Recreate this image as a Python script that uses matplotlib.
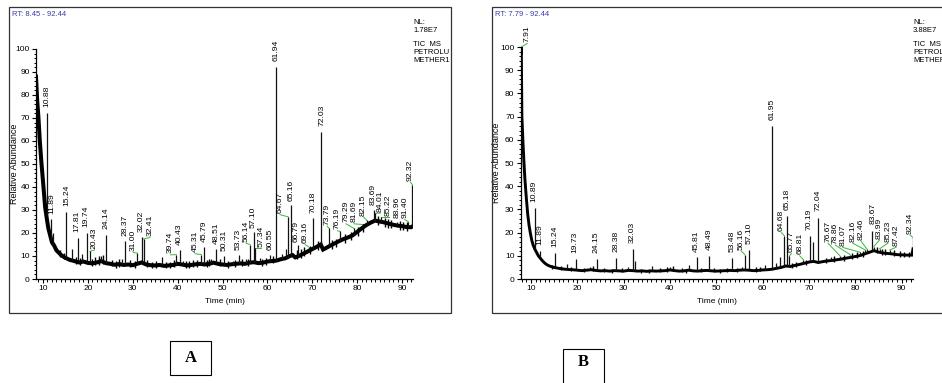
import matplotlib
matplotlib.use('Agg')
import matplotlib.pyplot as plt
import matplotlib.patches as patches
from matplotlib.ticker import MultipleLocator

NARROW = ['Liberation Sans Narrow', 'Liberation Sans', 'DejaVu Sans']
plt.rcParams['font.family'] = NARROW

# ---- panel A : baseline of the TIC trace (time, rel. abundance)
a_base_t = [8.45, 8.7, 9.0, 9.3, 9.6, 9.9, 10.2, 10.5, 10.8, 11.2, 11.6, 12.0, 12.5, 13.0, 13.5,
            14.0, 14.5, 15.0, 16, 17, 18, 19, 20, 21, 22, 23, 24, 25, 26, 27, 28, 29, 30, 31,
            32, 33, 34, 35, 36, 37, 38, 39, 40, 41, 42, 43, 44, 45, 46, 47, 48, 49, 50, 51, 52,
            53, 54, 55, 56, 57, 58, 59, 60, 61, 62, 63, 64, 65, 65.6, 66.2, 67, 68, 69, 70, 71,
            71.9, 72.4, 73, 74, 75, 76, 77, 78, 79, 80, 81, 82, 83, 84, 85, 86, 87, 88, 89, 90,
            91, 92, 92.44]
a_base_v = [88, 78, 70, 60, 52, 45, 38, 31, 27, 22, 19, 16, 14.5, 12.5, 11.5,
            10.5, 9.8, 9.2, 8.3, 7.8, 7.2, 7.6, 7.0, 6.8, 7.2, 7.8, 6.9, 6.6, 6.2, 6.5, 6.1, 6.3, 6.0, 6.6,
            7.2, 6.3, 6.0, 5.9, 6.1, 5.7, 5.9, 6.1, 6.6, 6.3, 5.9, 6.1, 6.4, 6.6, 6.3, 6.6, 7.1, 6.6, 6.3, 6.1, 6.4,
            6.6, 6.8, 6.6, 7.1, 7.3, 6.9, 7.1, 7.6, 7.8, 8.0, 8.6, 9.0, 10.0, 10.4, 9.4, 10.0, 11.0, 12.0, 13.0, 14.0,
            15.0, 12.8, 13.4, 14.5, 15.5, 16.5, 17.4, 18.1, 19.0, 20.5, 22.0, 23.4, 24.5, 25.4, 25.0, 24.6, 24.1, 23.6, 23.2, 23.0,
            22.6, 22.5, 23.0]

# panel A labelled peaks: retention time, apex, foot
a_pk_t = [10.88, 11.89, 15.24, 17.81, 19.74, 20.43, 24.14, 28.37, 31.00, 32.02, 32.41, 39.74, 40.43,
          45.31, 45.79, 48.51, 50.31, 53.73, 56.14, 57.10, 57.34, 60.55, 61.94, 64.67, 65.16, 66.79,
          69.16, 70.18, 72.03, 73.79, 76.19, 79.29, 81.69, 82.15, 83.69, 84.01, 85.22, 88.96, 91.40, 92.32]
a_pk_top = [72, 26, 29, 18, 20, 12, 19, 16.4, 11.3, 18.3, 17.4, 10.6, 12.5,
            10.6, 14, 13, 10, 10.6, 15, 20.5, 13.5, 10.6, 92, 27, 32, 15,
            14, 26.5, 64, 22, 20.7, 22, 23.6, 25.5, 30, 28.5, 27, 25, 25, 41]
a_pk_foot = [28, 17, 9.2, 7.7, 7.5, 7.0, 6.9, 6.1, 6.5, 7.1, 7.0, 6.1, 6.5,
             6.6, 6.4, 7.0, 6.3, 6.6, 7.0, 7.3, 7.2, 7.6, 8.0, 9.0, 10.0, 9.8,
             12.1, 13.0, 15.0, 14.2, 16.7, 19.3, 22.5, 23.5, 24.9, 25.4, 25.0, 23.4, 22.6, 22.6]
# unlabelled spikes on panel A
a_sp_t = [12.3, 16.5, 18.8, 23.0, 27.5, 36.5, 41.2, 47.5, 52.3, 55.2, 58.3, 63.2, 64.2]
a_sp_top = [20, 13, 11, 10, 8.5, 9.5, 8, 8.5, 8, 8.5, 9, 11, 13]
a_sp_foot = [15, 8.2, 7.4, 7.6, 6.3, 6.1, 6.2, 6.8, 6.3, 6.7, 6.9, 8.6, 9.0]
# baseline noise on panel A (time, high, low)
a_ns_t = [13.8, 14.6, 17.3, 18.3, 20.9, 21.7, 22.4, 23.4, 25.3, 26.2, 26.9, 29.4, 30.5, 33.2, 34.4,
          35.1, 37.4, 38.2, 39.3, 41.8, 42.6, 43.5, 44.4, 46.6, 47.1, 49.4, 51.3, 52.8, 54.3, 55.7,
          58.9, 59.6, 61.3, 66.6, 67.4, 68.2, 69.6, 71.2, 74.4, 75.3, 77.2, 78.6, 80.2, 81.3, 84.6,
          86.1, 86.8, 87.6, 89.5, 90.2, 91.1]
a_ns_hi = [12.5, 11.5, 9.5, 9.2, 8.8, 9.5, 9.8, 10.5, 8.4, 8.0, 8.6, 8.1, 7.9, 8.4, 7.6,
           7.8, 7.5, 7.6, 8.2, 8.0, 7.7, 8.1, 8.3, 8.4, 8.6, 8.7, 7.9, 8.3, 8.6, 8.9,
           8.8, 9.3, 9.9, 12.5, 13, 13.8, 14.5, 16.5, 16.8, 17.5, 19.5, 20.5, 22.5, 24.0, 27.5,
           26.5, 26.2, 25.8, 25.2, 25.0, 24.8]
a_ns_lo = [9.5, 8.8, 6.6, 6.2, 5.6, 6.0, 6.3, 6.5, 5.5, 5.0, 5.4, 5.1, 5.0, 5.3, 4.8,
           4.9, 4.7, 4.8, 5.2, 5.0, 4.8, 5.1, 5.3, 5.4, 5.6, 5.5, 5.0, 5.3, 5.6, 5.7,
           5.8, 6.1, 6.8, 8.6, 9.0, 9.8, 10.8, 12.6, 13.0, 14.0, 15.6, 17.0, 18.8, 20.5, 23.5,
           22.8, 22.3, 22.0, 21.4, 21.3, 21.0]

# ---- panel B
b_base_t = [7.79, 7.91, 8.05, 8.3, 8.5, 8.7, 9.0, 9.3, 9.6, 9.9, 10.2, 10.5, 10.8, 11.2, 11.6,
            12.0, 12.5, 13.0, 13.5, 14, 15, 16, 17, 18, 19, 20, 21, 22, 23, 24, 25, 26, 27, 28,
            29, 30, 31, 32, 33, 34, 35, 36, 37, 38, 39, 40, 41, 42, 43, 44, 45, 46, 47, 48, 49,
            50, 51, 52, 53, 54, 55, 56, 57, 58, 59, 60, 61, 62, 63, 64, 65, 66, 67, 68, 69, 70,
            71, 72, 73, 74, 75, 76, 77, 78, 79, 80, 81, 82, 83, 84, 85, 86, 87, 88, 89, 90, 91,
            92.2, 92.44]
b_base_v = [97, 100, 70, 58, 50, 43, 35, 28, 23, 19.5, 16.5, 14.5, 13, 11.5, 10,
            9, 7.8, 6.8, 6.1, 5.6, 5.0, 4.6, 4.3, 4.1, 4.0, 3.8, 3.6, 3.8, 4.0, 3.7, 3.5, 3.6, 3.4, 3.6,
            3.5, 3.4, 3.7, 3.6, 3.4, 3.5, 3.3, 3.5, 3.4, 3.5, 3.6, 3.9, 3.6, 3.4, 3.5, 3.8, 3.5, 3.4, 3.6, 3.7, 3.5,
            3.4, 3.5, 3.6, 3.7, 3.6, 3.8, 3.9, 3.8, 3.6, 3.7, 3.9, 4.0, 4.2, 4.6, 5.0, 5.6, 5.4, 5.9, 6.3, 6.8, 7.3,
            7.6, 7.1, 7.5, 7.8, 8.0, 8.3, 8.6, 9.0, 9.3, 9.7, 10.1, 10.8, 11.5, 12.2, 11.6, 11.2, 11.0, 10.8, 10.5, 10.4, 10.3,
            10.3, 13]

b_pk_t = [7.91, 10.89, 11.89, 15.24, 19.73, 24.15, 28.38, 32.03, 45.81, 48.49, 53.48, 56.16, 57.10,
          61.95, 64.68, 65.18, 65.77, 68.81, 70.19, 72.04, 76.67, 78.86, 81.07, 82.16, 82.46, 83.67,
          83.99, 85.23, 87.42, 92.34]
b_pk_top = [100, 30.5, 12, 11, 8.6, 8.6, 9, 13, 9.3, 10, 9, 10.5, 12.4,
            66, 18.7, 27, 9.8, 8.3, 18.4, 26.3, 10, 10.5, 11.5, 12.5, 13, 20.5,
            14, 13, 12.5, 18]
b_pk_foot = [100, 13, 9.5, 5.0, 3.9, 3.7, 3.6, 3.6, 3.5, 3.6, 3.7, 3.9, 3.8,
             4.1, 5.0, 5.5, 5.5, 6.5, 7.3, 7.1, 8.4, 9.0, 10.0, 10.8, 11.0, 12.0,
             12.2, 11.5, 11.0, 10.4]
b_sp_t = [17.7, 22.8, 31.0, 32.5, 36.2, 40.0, 44.0, 55.5, 60.6, 62.8, 63.7, 70.9, 74.8]
b_sp_top = [6.5, 5, 5, 7.6, 5.7, 5, 6, 5, 6, 7, 9.5, 16, 9.5]
b_sp_foot = [4.3, 3.9, 3.7, 3.6, 3.5, 3.9, 3.8, 3.8, 3.9, 4.3, 4.8, 7.6, 7.9]
b_ns_t = [14.5, 16.4, 18.6, 21.4, 23.3, 25.8, 27.4, 29.6, 33.8, 35.4, 37.8, 39.4, 40.7, 42.6, 43.4,
          46.8, 49.6, 50.8, 52.2, 54.4, 58.6, 59.4, 66.4, 67.3, 69.4, 73.6, 75.5, 77.6, 79.2, 80.4,
          81.6, 84.6, 85.8, 86.5, 88.4, 89.6, 90.6, 91.5]
b_ns_hi = [6.2, 5.6, 5.3, 4.8, 5.4, 4.6, 4.5, 4.6, 4.5, 4.4, 4.6, 5.2, 5.5, 4.6, 4.5,
           4.8, 4.6, 4.5, 4.7, 4.9, 5.0, 5.1, 7.0, 7.4, 8.2, 9.2, 9.8, 10.4, 11.0, 11.6,
           12.0, 13.8, 13.0, 12.8, 12.4, 12.0, 11.8, 11.8]
b_ns_lo = [4.3, 3.9, 3.6, 3.1, 3.3, 2.9, 2.8, 2.9, 2.8, 2.7, 2.9, 3.2, 3.3, 2.9, 2.8,
           3.0, 2.9, 2.8, 2.9, 3.1, 3.2, 3.3, 4.6, 5.0, 5.9, 6.8, 7.3, 7.9, 8.5, 9.1,
           9.5, 11.2, 10.5, 10.2, 9.8, 9.6, 9.4, 9.4]

# label anchor points (x in min, y in % abundance) as placed by the software
a_lab_x = [10.83, 11.95, 15.28, 17.65, 19.6, 21.4, 24.0, 28.3, 30.1, 31.9, 33.8, 38.45, 40.4,
           43.9, 45.9, 48.5, 50.4, 53.5, 55.3, 56.9, 58.6, 60.6, 62.05, 62.8, 65.2, 66.5,
           68.4, 70.1, 72.1, 73.3, 75.6, 77.5, 79.3, 81.4, 83.5, 85.2, 87.0, 88.8, 90.6, 91.9]
a_lab_y = [74, 27.5, 31, 20, 22, 12.5, 21, 18, 11.5, 20, 18, 10.5, 14,
           11, 15.5, 14.5, 11.5, 12, 15.5, 21.5, 13.5, 12, 94, 28, 33.5, 15.5,
           15, 28, 66, 23, 21, 24, 24, 27, 31.5, 28.7, 27, 25.8, 25.8, 42]
b_lab_x = [9.2, 10.7, 11.95, 15.2, 19.5, 24.0, 28.3, 31.9, 45.7, 48.4, 53.4, 55.4, 57.1,
           61.95, 64.0, 65.25, 66.2, 68.0, 70.1, 72.0, 74.1, 75.7, 77.3, 79.5, 81.3, 83.8,
           85.2, 87.0, 88.8, 91.8]
b_lab_y = [101.5, 32.5, 14, 13, 10.5, 10.5, 11, 15, 11, 12, 11, 12, 14.5,
           68, 20, 29, 11, 10, 20.5, 28.5, 15.4, 14.6, 13.6, 15.4, 16.1, 23.3,
           16.8, 15.4, 13.7, 19]


def draw_panel(ax, base_t, base_v, pk_t, pk_top, pk_foot, lab_x, lab_y,
               sp_t, sp_top, sp_foot, ns_t, ns_hi, ns_lo, xlim, lw):
    ax.plot(base_t, base_v, color='black', lw=lw, solid_joinstyle='miter', zorder=3)
    ax.vlines(ns_t, ns_lo, ns_hi, color='black', lw=1.0, zorder=3)
    ax.vlines(pk_t, pk_foot, pk_top, color='#111111', lw=0.9, zorder=3)
    ax.vlines(sp_t, sp_foot, sp_top, color='#111111', lw=0.9, zorder=3)
    for t, top, lx, ly in zip(pk_t, pk_top, lab_x, lab_y):
        if abs(lx - t) > 0.35:
            ax.plot([lx, t], [ly, top], color='#33bb33', lw=0.7, clip_on=False, zorder=2)
        ax.text(lx, ly + 0.6, f'{t:.2f}', rotation=90, ha='center', va='bottom',
                fontsize=6.1, clip_on=False)
    ax.set_xlim(*xlim)
    ax.set_ylim(0, 100)
    ax.spines['top'].set_visible(False)
    ax.spines['right'].set_visible(False)
    ax.spines['left'].set_linewidth(0.9)
    ax.spines['bottom'].set_linewidth(0.9)
    ax.set_xticks(range(10, 91, 10))
    ax.set_yticks(range(0, 101, 10))
    ax.xaxis.set_minor_locator(MultipleLocator(1))
    ax.yaxis.set_minor_locator(MultipleLocator(2))
    ax.tick_params(which='major', labelsize=6, length=3, width=0.8, pad=1.5)
    ax.tick_params(which='minor', length=1.8, width=0.7)
    ax.set_xlabel('Time (min)', fontsize=6, labelpad=4)
    ax.set_ylabel('Relative Abundance', fontsize=6.5)


fig = plt.figure(figsize=(9.42, 3.83), dpi=100)
W, H = 942.0, 383.0

# frames around the two screenshots
fig.add_artist(patches.Rectangle((9 / W, 1 - 313 / H), 442 / W, 306 / H, transform=fig.transFigure,
                                 fill=False, ec='#333333', lw=0.9))
fig.add_artist(patches.Rectangle((492 / W, 1 - 313 / H), 460 / W, 306 / H, transform=fig.transFigure,
                                 fill=False, ec='#333333', lw=0.9, clip_on=False))

axA = fig.add_axes([36 / W, 1 - 279 / H, 377 / W, 230 / H])
axB = fig.add_axes([520.7 / W, 1 - 279 / H, 392.3 / W, 232 / H])

draw_panel(axA, a_base_t, a_base_v, a_pk_t, a_pk_top, a_pk_foot, a_lab_x, a_lab_y,
           a_sp_t, a_sp_top, a_sp_foot, a_ns_t, a_ns_hi, a_ns_lo, (8.45, 92.44), 2.9)
draw_panel(axB, b_base_t, b_base_v, b_pk_t, b_pk_top, b_pk_foot, b_lab_x, b_lab_y,
           b_sp_t, b_sp_top, b_sp_foot, b_ns_t, b_ns_hi, b_ns_lo, (7.79, 92.44), 2.1)
axA.yaxis.set_label_coords(-0.045, 0.5)
axB.yaxis.set_label_coords(-0.050, 0.5)

# header texts
fig.text(12 / W, 1 - 15 / H, 'RT: 8.45 - 92.44', fontsize=5.5, color='#3a3aa8', va='center')
fig.text(495 / W, 1 - 15 / H, 'RT: 7.79 - 92.44', fontsize=5.5, color='#3a3aa8', va='center')
for x0, nl in [(413, '1.78E7'), (913, '3.88E7')]:
    for yy, s in [(23, 'NL:'), (31, nl), (44, 'TIC  MS'), (52, 'PETROLU'), (60, 'METHER1')]:
        fig.text(x0 / W, 1 - yy / H, s, fontsize=5.5, va='center')

# A / B tags
fig.add_artist(patches.Rectangle((170 / W, 1 - 375 / H), 41 / W, 34 / H, transform=fig.transFigure,
                                 fill=False, ec='black', lw=0.8))
fig.add_artist(patches.Rectangle((563 / W, 1 - 384 / H), 41 / W, 35 / H, transform=fig.transFigure,
                                 fill=False, ec='black', lw=0.8))
fig.text(190.5 / W, 1 - 358 / H, 'A', fontsize=12, fontweight='bold', family='Liberation Serif',
         ha='center', va='center')
fig.text(583.5 / W, 1 - 362 / H, 'B', fontsize=12, fontweight='bold', family='Liberation Serif',
         ha='center', va='center')

fig.savefig('out.png', dpi=100)
